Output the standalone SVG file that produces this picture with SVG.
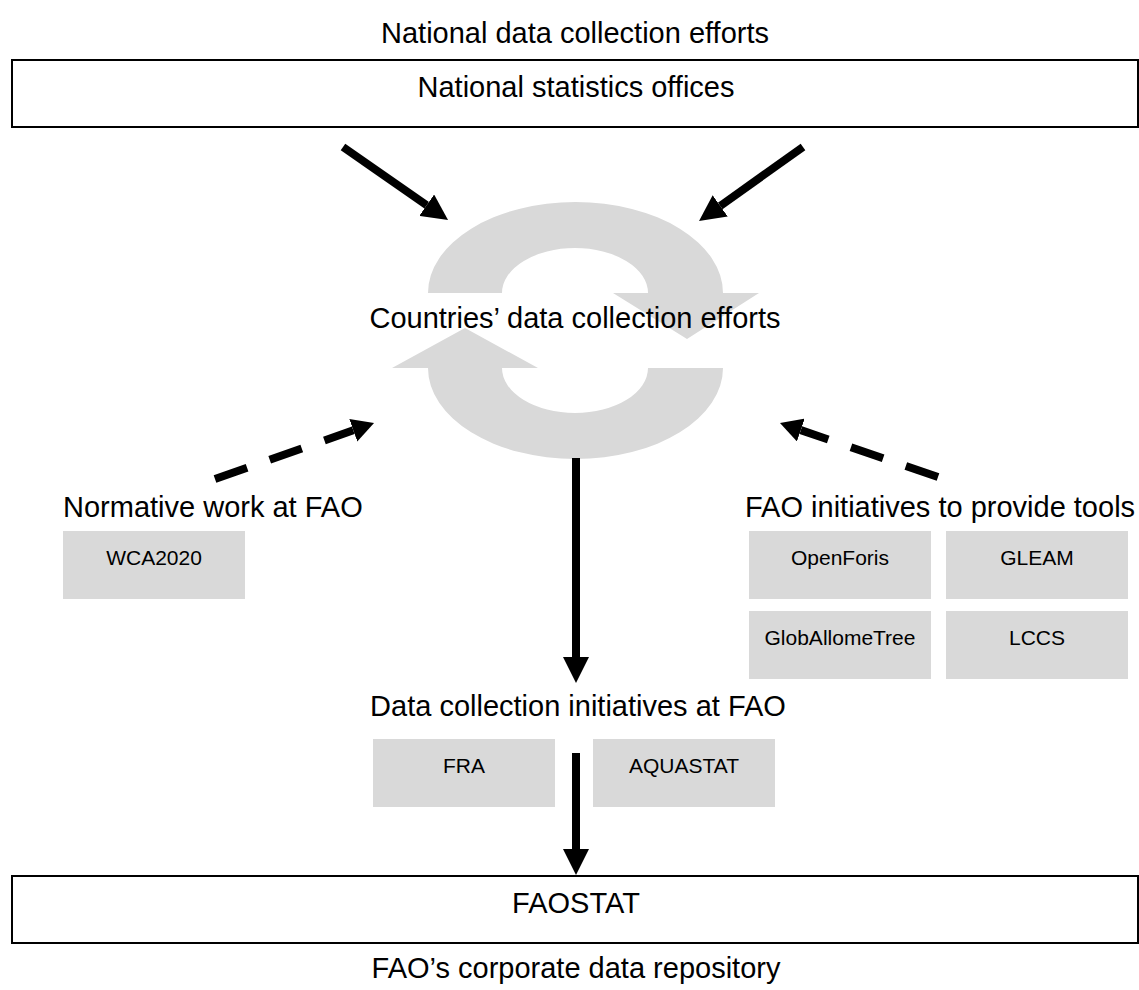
<svg xmlns="http://www.w3.org/2000/svg" width="1139" height="990" viewBox="0 0 1139 990">
<style>
text{font-family:"Liberation Sans",Arial,sans-serif;fill:#000}
.lbl{font-size:29px}
.small{font-size:21px;text-anchor:middle}
.mid{text-anchor:middle}
.frame{fill:#fff;stroke:#000;stroke-width:2}
.gbox{fill:#d9d9d9}
.solid{stroke:#000;stroke-width:8;fill:none}
.dash{stroke:#000;stroke-width:8;fill:none;stroke-dasharray:34 24}
</style>
<defs>
<marker id="ah" viewBox="0 0 26 26" refX="0" refY="13" markerWidth="26" markerHeight="26" markerUnits="userSpaceOnUse" orient="auto">
<path d="M0,0 L26,13 L0,26 Z" fill="#000"/>
</marker>
<marker id="ahs" viewBox="0 0 22 24" refX="0" refY="12" markerWidth="22" markerHeight="24" markerUnits="userSpaceOnUse" orient="auto">
<path d="M0,0 L22,12 L0,24 Z" fill="#000"/>
</marker>
</defs>
<rect width="1139" height="990" fill="#fff"/>
<g id="title-national">
<text class="lbl mid" x="575" y="43">National data collection efforts</text>
</g>
<g id="node-nso">
<rect class="frame" x="12" y="60" width="1126" height="67"/>
<text class="lbl mid" x="576" y="97">National statistics offices</text>
</g>
<g id="node-countries">
<path fill="#d9d9d9" d="M428,293 A147.5,91 0 0 1 723,293 L759,293 L687,339 L613,293 L648,293 A73,45 0 0 0 502,293 Z"/>
<path fill="#d9d9d9" d="M723,368 A147.5,91 0 0 1 428,368 L392,368 L465,328 L538,368 L502,368 A73,45 0 0 0 648,368 Z"/>
<text class="lbl mid" x="575" y="328">Countries’ data collection efforts</text>
</g>
<g id="node-normative">
<text class="lbl" x="63" y="517">Normative work at FAO</text>
<rect class="gbox" x="63" y="531" width="182" height="68"/>
<text class="small" x="154" y="565">WCA2020</text>
</g>
<g id="node-tools">
<text class="lbl" x="745" y="517">FAO initiatives to provide tools</text>
<rect class="gbox" x="749" y="531" width="182" height="68"/>
<text class="small" x="840" y="565">OpenForis</text>
<rect class="gbox" x="946" y="531" width="182" height="68"/>
<text class="small" x="1037" y="565">GLEAM</text>
<rect class="gbox" x="749" y="611" width="182" height="68"/>
<text class="small" x="840" y="645">GlobAllomeTree</text>
<rect class="gbox" x="946" y="611" width="182" height="68"/>
<text class="small" x="1037" y="645">LCCS</text>
</g>
<g id="node-datacollection">
<text class="lbl mid" x="578" y="716">Data collection initiatives at FAO</text>
<rect class="gbox" x="373" y="739" width="182" height="68"/>
<text class="small" x="464" y="773">FRA</text>
<rect class="gbox" x="593" y="739" width="182" height="68"/>
<text class="small" x="684" y="773">AQUASTAT</text>
</g>
<g id="node-faostat">
<rect class="frame" x="12" y="876" width="1126" height="67"/>
<text class="lbl mid" x="576" y="913">FAOSTAT</text>
<text class="lbl mid" x="576" y="978">FAO’s corporate data repository</text>
</g>
<g id="connectors">
<line class="solid" x1="343" y1="147" x2="426.7" y2="205.2" marker-end="url(#ah)"/>
<line class="solid" x1="803" y1="147" x2="720.2" y2="205.9" marker-end="url(#ah)"/>
<line class="solid" x1="576" y1="458" x2="576" y2="657" marker-end="url(#ah)"/>
<line class="solid" x1="576" y1="753" x2="576" y2="849" marker-end="url(#ah)"/>
<line class="dash" x1="215" y1="479" x2="353.3" y2="430.3" marker-end="url(#ahs)"/>
<line class="dash" x1="938" y1="477" x2="800.8" y2="430.1" marker-end="url(#ahs)"/>
</g>
</svg>
